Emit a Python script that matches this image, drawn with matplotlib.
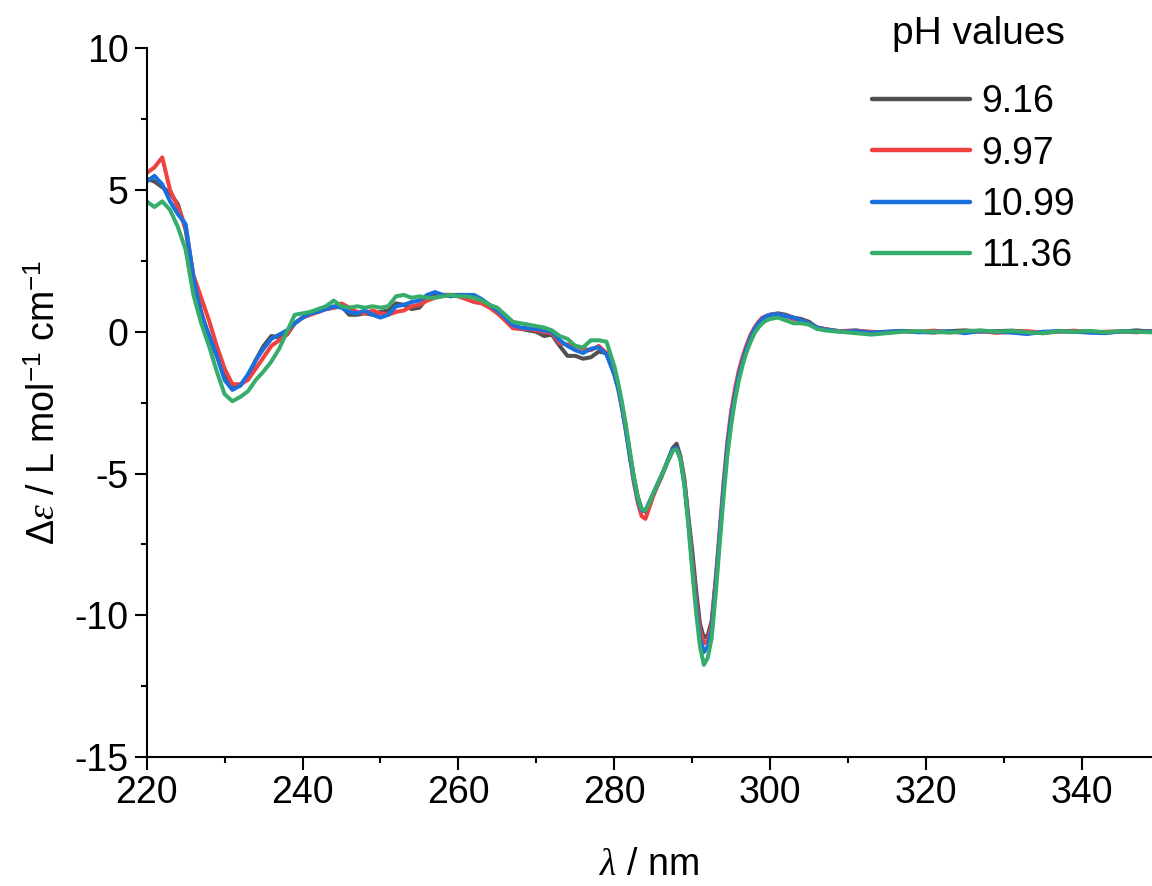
import numpy as np
import matplotlib
matplotlib.use("Agg")
import matplotlib.pyplot as plt
from matplotlib.ticker import MultipleLocator

plt.rcParams['font.family'] = ['Liberation Sans', 'DejaVu Sans']
plt.rcParams['mathtext.fontset'] = 'custom'
plt.rcParams['mathtext.rm'] = 'Liberation Sans'
plt.rcParams['mathtext.it'] = 'Liberation Serif:italic'
plt.rcParams['axes.unicode_minus'] = False

# wavelength grid (nm): 1 nm steps, 0.5 nm through the bands, 2 nm in the flat tail
wl = np.concatenate([np.arange(220, 280, 1.0),
                     np.arange(280, 300.5, 0.5),
                     np.arange(301, 310, 1.0),
                     np.arange(311, 350, 2.0)])

ph_labels = ['9.16', '9.97', '10.99', '11.36']
colors = ['#515151', '#F14040', '#1A6FDF', '#37AD6B']

de_916 = [
    5.4, 5.3, 5.1, 4.9, 4.5, 3.6, 1.9, 0.7, -0.2, -0.85,
    -1.5, -1.9, -1.9, -1.6, -1.0, -0.5, -0.15, -0.2, -0.1, 0.3,
    0.5, 0.65, 0.75, 0.8, 0.85, 0.9, 0.6, 0.6, 0.65, 0.6,
    0.7, 0.75, 1.0, 0.95, 0.8, 0.85, 1.2, 1.3, 1.3, 1.3,
    1.3, 1.25, 1.25, 1.1, 0.9, 0.7, 0.5, 0.2, 0.1, 0.05,
    0.0, -0.15, -0.1, -0.5, -0.85, -0.85, -0.95, -0.9, -0.7, -0.75,
    -1.4, -1.9, -2.6, -3.4, -4.3, -5.1, -5.8, -6.25, -6.35, -6.1,
    -5.75, -5.45, -5.15, -4.8, -4.45, -4.1, -3.95, -4.4, -5.2, -6.5,
    -7.7, -9.1, -10.3, -10.8, -10.7, -10.2, -8.8, -7.3, -5.6, -4.2,
    -3.1, -2.3, -1.6, -1.0, -0.55, -0.2, 0.1, 0.3, 0.45, 0.55, 0.6,
    0.65, 0.6, 0.5, 0.45, 0.35, 0.15, 0.1, 0.05, 0.02,
    0.05, -0.02, 0.0, 0.03, 0.0, -0.03, 0.02, 0.05, 0.0, 0.02,
    0.04, 0.0, -0.05, 0.03, 0.0, 0.02, -0.03, 0.0, 0.05, 0.0]

de_997 = [
    5.6, 5.8, 6.15, 5.0, 4.4, 3.7, 2.0, 1.2, 0.4, -0.5,
    -1.3, -1.85, -1.85, -1.7, -1.3, -0.9, -0.5, -0.3, -0.1, 0.3,
    0.5, 0.6, 0.7, 0.8, 0.85, 1.0, 0.85, 0.7, 0.65, 0.75,
    0.65, 0.6, 0.7, 0.75, 0.9, 0.95, 1.1, 1.2, 1.3, 1.3,
    1.25, 1.15, 1.05, 1.0, 0.85, 0.65, 0.4, 0.12, 0.1, 0.1,
    0.05, 0.0, -0.05, -0.4, -0.45, -0.5, -0.6, -0.65, -0.5, -0.75,
    -1.5, -2.0, -2.7, -3.5, -4.4, -5.3, -6.0, -6.5, -6.6, -6.2,
    -5.8, -5.45, -5.15, -4.8, -4.5, -4.2, -4.1, -4.45, -5.3, -6.6,
    -8.0, -9.4, -10.5, -11.0, -10.9, -10.3, -8.8, -7.1, -5.4, -3.9,
    -2.8, -2.0, -1.35, -0.85, -0.45, -0.1, 0.15, 0.35, 0.5, 0.55, 0.6,
    0.62, 0.55, 0.45, 0.4, 0.3, 0.15, 0.1, 0.05, 0.02,
    0.03, 0.0, -0.03, 0.02, 0.0, 0.04, -0.02, 0.0, 0.03, -0.04,
    0.0, 0.02, -0.03, 0.0, 0.04, -0.02, 0.0, 0.02, -0.02, 0.03]

de_1099 = [
    5.3, 5.5, 5.2, 4.6, 4.15, 3.8, 1.9, 0.6, -0.1, -0.85,
    -1.7, -2.05, -1.9, -1.5, -1.0, -0.6, -0.25, -0.1, 0.05, 0.3,
    0.5, 0.65, 0.7, 0.8, 0.9, 0.85, 0.7, 0.65, 0.75, 0.6,
    0.5, 0.6, 0.9, 0.95, 1.05, 1.1, 1.3, 1.4, 1.3, 1.25,
    1.3, 1.3, 1.3, 1.15, 0.95, 0.75, 0.5, 0.23, 0.15, 0.12,
    0.1, 0.05, 0.0, -0.3, -0.5, -0.65, -0.75, -0.6, -0.55, -0.8,
    -1.5, -2.0, -2.7, -3.5, -4.4, -5.2, -5.9, -6.3, -6.3, -6.0,
    -5.7, -5.4, -5.1, -4.8, -4.45, -4.15, -4.1, -4.5, -5.4, -6.7,
    -8.2, -9.6, -10.8, -11.3, -11.1, -10.5, -9.0, -7.3, -5.6, -4.1,
    -3.0, -2.2, -1.5, -1.0, -0.55, -0.2, 0.1, 0.3, 0.45, 0.55, 0.6,
    0.62, 0.55, 0.5, 0.4, 0.3, 0.15, 0.08, 0.05, 0.0,
    0.02, -0.03, 0.0, 0.03, -0.02, 0.0, 0.02, -0.05, 0.03, 0.0,
    -0.03, -0.08, 0.0, 0.02, 0.0, -0.03, -0.05, 0.02, 0.0, 0.02]

de_1136 = [
    4.6, 4.4, 4.6, 4.3, 3.7, 2.9, 1.3, 0.3, -0.5, -1.4,
    -2.2, -2.45, -2.3, -2.1, -1.7, -1.4, -1.05, -0.6, 0.0, 0.6,
    0.65, 0.7, 0.8, 0.9, 1.1, 0.9, 0.85, 0.9, 0.85, 0.9,
    0.85, 0.9, 1.25, 1.3, 1.2, 1.25, 1.2, 1.2, 1.25, 1.3,
    1.25, 1.25, 1.2, 1.1, 0.95, 0.85, 0.6, 0.35, 0.3, 0.25,
    0.2, 0.15, 0.05, -0.15, -0.25, -0.5, -0.55, -0.3, -0.3, -0.35,
    -1.2, -1.8, -2.5, -3.3, -4.2, -5.1, -5.8, -6.25, -6.3, -6.05,
    -5.7, -5.4, -5.1, -4.8, -4.5, -4.2, -4.15, -4.5, -5.4, -6.8,
    -8.4, -9.9, -11.1, -11.75, -11.5, -10.8, -9.3, -7.6, -5.9, -4.4,
    -3.3, -2.4, -1.7, -1.15, -0.7, -0.35, -0.05, 0.15, 0.3, 0.4, 0.45,
    0.5, 0.4, 0.3, 0.3, 0.25, 0.1, 0.05, 0.02, 0.0,
    -0.05, -0.1, -0.05, 0.0, 0.02, 0.0, -0.03, 0.02, 0.05, 0.0,
    0.03, -0.02, -0.05, 0.02, 0.0, 0.03, -0.02, 0.02, 0.0, -0.02]

series = [de_916, de_997, de_1099, de_1136]

fig = plt.figure(figsize=(11.52, 8.86), dpi=100)
ax = fig.add_axes([0.1273, 0.1456, 0.8727, 0.7999])

for vals, lab, c in zip(series, ph_labels, colors):
    ax.plot(wl, vals, color=c, lw=2.9, label=lab, solid_capstyle='round')

ax.set_xlim(220, 349)
ax.set_ylim(-15, 10)
ax.xaxis.set_major_locator(MultipleLocator(20))
ax.xaxis.set_minor_locator(MultipleLocator(10))
ax.yaxis.set_major_locator(MultipleLocator(5))
ax.yaxis.set_minor_locator(MultipleLocator(2.5))

for s in ['top', 'right']:
    ax.spines[s].set_visible(False)
for s in ['left', 'bottom']:
    ax.spines[s].set_linewidth(1.5)
ax.tick_params(which='major', direction='out', length=9, width=1.5, labelsize=27, pad=4)
ax.tick_params(which='minor', direction='out', length=4.5, width=1.5)

ax.set_xlabel(r'$\mathit{λ}$ / nm', fontsize=27, labelpad=26)
ax.set_ylabel(r'$\mathit{Δε}$ / L mol$^{-1}$ cm$^{-1}$', fontsize=27, labelpad=8)

fig.text(0.849, 0.962, 'pH values', ha='center', va='center', fontsize=28)
leg = ax.legend(loc='upper left', bbox_to_anchor=(0.757, 0.905), bbox_transform=fig.transFigure,
                frameon=False, fontsize=27, handlelength=2.6, handletextpad=0.3,
                labelspacing=0.41, borderpad=0, borderaxespad=0)
for h in leg.get_lines():
    h.set_linewidth(3.2)

fig.savefig('out.png', dpi=100)
